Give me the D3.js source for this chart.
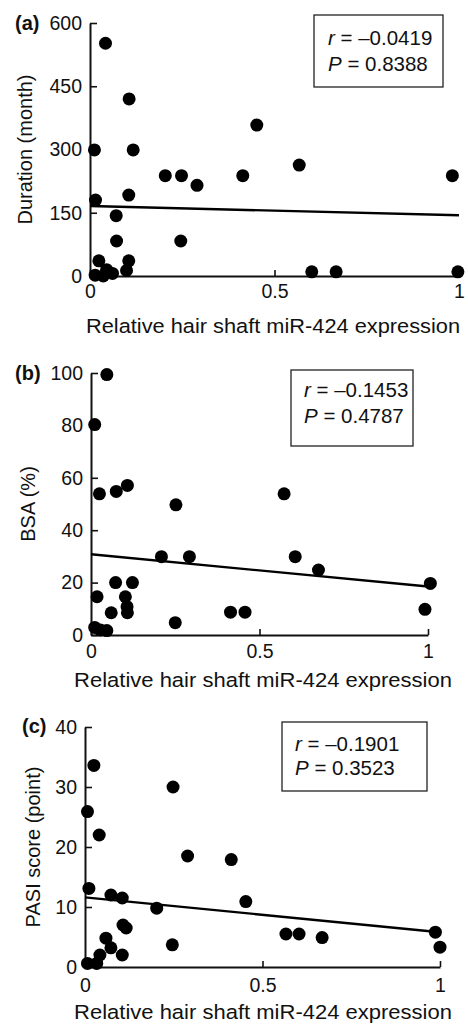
<!DOCTYPE html>
<html>
<head>
<meta charset="utf-8">
<script src="https://cdn.jsdelivr.net/npm/d3@7"></script>
<style>
  body { margin: 0; background: #fff; }
  text { font-family: "Liberation Sans", Arial, Helvetica, sans-serif; fill: #111; }
</style>
</head>
<body>
<svg id="fig" width="468" height="1024"></svg>
<script>
// x values are relative hair shaft miR-424 expression
const xTicks = [0, 0.5, 1]
const xTitle = "Relative hair shaft miR-424 expression"

// (a) duration
const durationX = [0.042, 0.106, 0.012, 0.117, 0.452, 0.567, 0.982, 0.204, 0.248, 0.290, 0.414, 0.015, 0.105,
  0.071, 0.072, 0.246, 0.024, 0.105, 0.099, 0.045, 0.061, 0.014, 0.036, 0.601, 0.667, 0.997]
const durationY = [552, 420, 299, 299, 358, 263, 238, 238, 238, 215, 238, 180, 192,
  143, 83, 83, 36, 36, 13, 15, 6, 2, 0, 10, 10, 10]
const durationTicks = [0, 150, 300, 450, 600]
const durationFit = [[0, 166], [1, 144]]

// (b) BSA
const bsaX = [0.047, 0.011, 0.025, 0.075, 0.108, 0.252, 0.573, 0.209, 0.292, 0.606, 0.675, 1.007, 0.991,
  0.073, 0.123, 0.018, 0.102, 0.107, 0.108, 0.060, 0.414, 0.457, 0.250, 0.011, 0.028, 0.047]
const bsaY = [99.4, 80.3, 53.9, 54.8, 57.1, 49.7, 53.9, 29.9, 29.9, 29.9, 24.8, 19.7, 9.8,
  20, 20, 14.6, 14.6, 10.8, 8.5, 8.5, 8.7, 8.7, 4.7, 2.9, 1.9, 1.7]
const bsaTicks = [0, 20, 40, 60, 80, 100]
const bsaFit = [[0, 30.8], [1, 18.5]]

// (c) PASI
const pasiX = [0.025, 0.007, 0.040, 0.248, 0.289, 0.412, 0.011, 0.073, 0.105, 0.202, 0.453, 0.107, 0.116,
  0.566, 0.603, 0.668, 0.987, 1.0, 0.246, 0.059, 0.073, 0.105, 0.042, 0.007, 0.033]
const pasiY = [33.6, 25.9, 22.0, 30.0, 18.5, 17.9, 13.1, 12.0, 11.5, 9.8, 10.9, 7.0, 6.5,
  5.5, 5.5, 4.9, 5.8, 3.3, 3.7, 4.8, 3.2, 2.0, 2.0, 0.6, 0.6]
const pasiTicks = [0, 10, 20, 30, 40]
const pasiFit = [[0, 11.6], [1, 5.8]]

const rValues = ["\u20130.0419", "\u20130.1453", "\u20130.1901"]
const pValues = ["0.8388", "0.4787", "0.3523"]

const panels = [
  { label: "(a)", xs: durationX, ys: durationY, yTicks: durationTicks, fit: durationFit, yTitle: "Duration (month)",
    left: 90, right: 459, top: 23, bottom: 276, labelX: 15, labelY: 30, yTitleX: 25, xLabelOff: 22,
    xTitle: { cx: 273, y: 333, len: 374 },
    box: { x: 314, y: 15, w: 129, h: 72, tx: 328, t1: 45, t2: 71 } },
  { label: "(b)", xs: bsaX, ys: bsaY, yTicks: bsaTicks, fit: bsaFit, yTitle: "BSA (%)",
    left: 91, right: 428, top: 373, bottom: 635, labelX: 15, labelY: 380, yTitleX: 28, xLabelOff: 23,
    xTitle: { cx: 263, y: 687, len: 378 },
    box: { x: 291, y: 370, w: 122, h: 76, tx: 304, t1: 397, t2: 423 } },
  { label: "(c)", xs: pasiX, ys: pasiY, yTicks: pasiTicks, fit: pasiFit, yTitle: "PASI score (point)",
    left: 85, right: 440, top: 727, bottom: 967, labelX: 22, labelY: 733, yTitleX: 33, xLabelOff: 25,
    xTitle: { cx: 263, y: 1019, len: 378 },
    box: { x: 282, y: 722, w: 145, h: 69, tx: 295, t1: 751, t2: 775 } }
]

const svg = d3.select("#fig")

panels.forEach((p, i) => {
  const x = d3.scaleLinear().domain([0, 1]).range([p.left, p.right])
  const y = d3.scaleLinear().domain([0, d3.max(p.yTicks)]).range([p.bottom, p.top])
  const g = svg.append("g")

  // axes, ticks point inward
  const yAxis = g.append("g")
    .attr("transform", `translate(${p.left},0)`)
    .call(d3.axisLeft(y).tickValues(p.yTicks).tickFormat(d3.format("d"))
      .tickSizeInner(-7).tickSizeOuter(0).tickPadding(8))
  const xAxis = g.append("g")
    .attr("transform", `translate(0,${p.bottom})`)
    .call(d3.axisBottom(x).tickValues(xTicks).tickFormat(d => d === 0.5 ? "0.5" : d3.format("d")(d))
      .tickSizeInner(-6).tickSizeOuter(0))
  xAxis.selectAll(".tick text").attr("dy", null).attr("y", p.xLabelOff)

  ;[xAxis, yAxis].forEach(a => {
    a.attr("font-size", 19.5).attr("font-family", null)
    a.select(".domain").attr("stroke", "#111").attr("stroke-width", 2)
    a.selectAll(".tick line").attr("stroke", "#111").attr("stroke-width", 1.6)
    a.selectAll(".tick text").attr("fill", "#111")
  })

  // points
  g.append("g").selectAll("circle")
    .data(p.xs.map((d, j) => [d, p.ys[j]]))
    .join("circle")
    .attr("cx", d => x(d[0]))
    .attr("cy", d => y(d[1]))
    .attr("r", 6.5)
    .attr("fill", "#000")

  // regression line
  g.append("path")
    .datum(p.fit)
    .attr("d", d3.line().x(d => x(d[0])).y(d => y(d[1])))
    .attr("stroke", "#000")
    .attr("stroke-width", 2.4)
    .attr("fill", "none")

  // stats box
  g.append("rect")
    .attr("x", p.box.x).attr("y", p.box.y)
    .attr("width", p.box.w).attr("height", p.box.h)
    .attr("fill", "none").attr("stroke", "#222").attr("stroke-width", 1.3)
  const t1 = g.append("text").attr("x", p.box.tx).attr("y", p.box.t1).attr("font-size", 20.5)
  t1.append("tspan").attr("font-style", "italic").text("r")
  t1.append("tspan").text(" = " + rValues[i])
  const t2 = g.append("text").attr("x", p.box.tx).attr("y", p.box.t2).attr("font-size", 20.5)
  t2.append("tspan").attr("font-style", "italic").text("P")
  t2.append("tspan").text(" = " + pValues[i])

  // titles
  g.append("text")
    .attr("x", p.labelX).attr("y", p.labelY)
    .attr("font-size", 20).attr("font-weight", "bold")
    .text(p.label)
  g.append("text")
    .attr("transform", `translate(${p.yTitleX + 7},${(p.top + p.bottom) / 2}) rotate(-90)`)
    .attr("text-anchor", "middle")
    .attr("font-size", 20)
    .text(p.yTitle)
  g.append("text")
    .attr("x", p.xTitle.cx).attr("y", p.xTitle.y)
    .attr("text-anchor", "middle")
    .attr("font-size", 20.5)
    .attr("textLength", p.xTitle.len)
    .attr("lengthAdjust", "spacingAndGlyphs")
    .text(xTitle)
})
</script>
</body>
</html>
